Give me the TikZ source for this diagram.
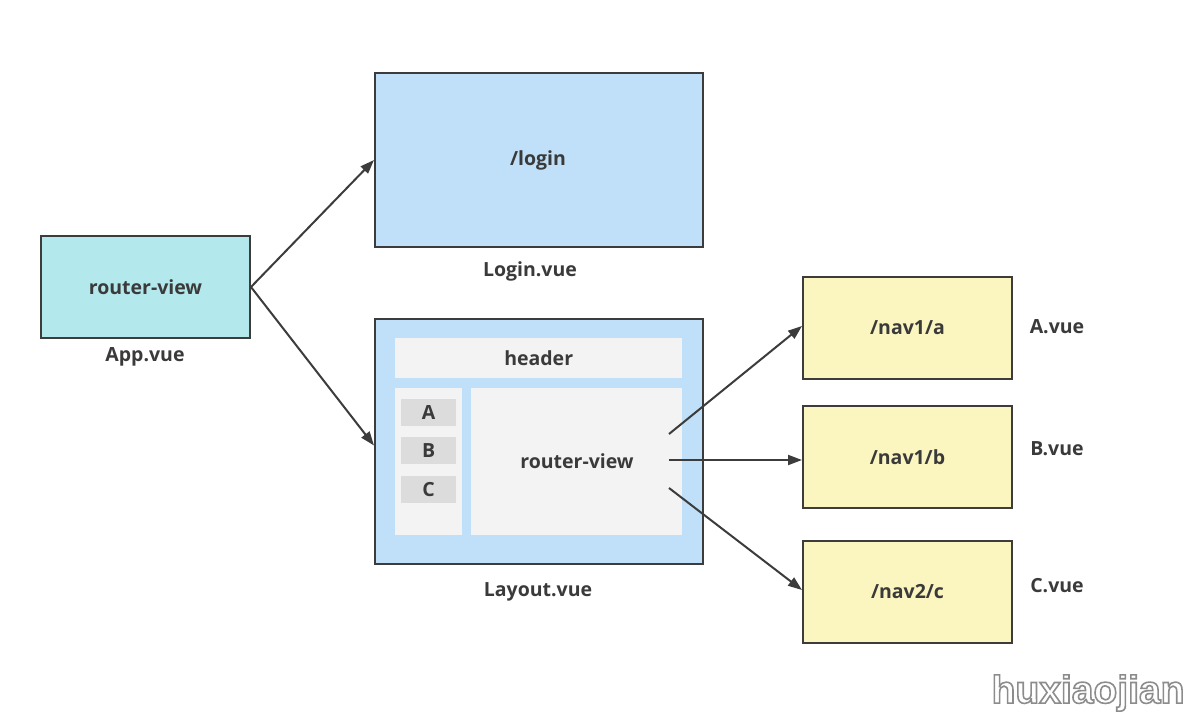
\documentclass[tikz,border=0pt]{standalone}
\usepackage{fontspec}
\setmainfont{Open Sans}
\newfontfamily\wmfont{Liberation Sans}
\usetikzlibrary{arrows.meta}
\definecolor{txt}{HTML}{3A3A3A}
\definecolor{edge}{HTML}{3C3C3C}
\definecolor{appfill}{HTML}{B3E9EC}
\definecolor{bluefill}{HTML}{BFE0F8}
\definecolor{panel}{HTML}{F3F3F3}
\definecolor{tab}{HTML}{DCDCDC}
\definecolor{yelfill}{HTML}{FBF5C0}
\newcommand{\outlinetext}[1]{\special{pdf:literal direct q 1 Tr 1.6 w 0.55 G}#1\special{pdf:literal direct 0 Tr Q}}
\tikzset{
  lbl/.style={text=txt, font=\bfseries\fontsize{19.5}{21}\selectfont},
  arr/.style={draw=edge, line width=2pt, -{Triangle[length=14pt,width=10pt]}},
  wm/.style={font=\wmfont\bfseries\fontsize{39}{40}\selectfont, anchor=east},
}
\begin{document}
\begin{tikzpicture}[x=1pt,y=-1pt]
\useasboundingbox (0,0) rectangle (1197,721);
% App
\node[draw=edge, line width=2pt, fill=appfill, minimum width=209pt, minimum height=102pt, anchor=north west, inner sep=0pt] (app) at (40,235) {};
\node[lbl] (apptxt) at (app.center) {router-view};
\node[lbl] (applbl) at (145,357) {App.vue};
% Login
\node[draw=edge, line width=2pt, fill=bluefill, minimum width=328pt, minimum height=174pt, anchor=north west, inner sep=0pt] (login) at (374,72) {};
\node[lbl] (logintxt) at (538,160) {/login};
\node[lbl] (loginlbl) at (530,271) {Login.vue};
% Layout
\node[draw=edge, line width=2pt, fill=bluefill, minimum width=328pt, minimum height=245pt, anchor=north west, inner sep=0pt] (layout) at (374,318) {};
\node[fill=panel, minimum width=287pt, minimum height=40pt, anchor=north west, inner sep=0pt] (header) at (395,338) {};
\node[lbl] (headertxt) at (header.center) {header};
\node[fill=panel, minimum width=67pt, minimum height=147pt, anchor=north west, inner sep=0pt] (side) at (395,388) {};
\node[fill=panel, minimum width=211pt, minimum height=147pt, anchor=north west, inner sep=0pt] (main) at (471,388) {};
\node[lbl] (maintxt) at (577,461) {router-view};
\node[fill=tab, minimum width=55pt, minimum height=27pt, anchor=north west, inner sep=0pt] (ta) at (401,399) {};
\node[lbl] (tat) at (ta.center) {A};
\node[fill=tab, minimum width=55pt, minimum height=27pt, anchor=north west, inner sep=0pt] (tb) at (401,437) {};
\node[lbl] (tbt) at (tb.center) {B};
\node[fill=tab, minimum width=55pt, minimum height=27pt, anchor=north west, inner sep=0pt] (tc) at (401,476) {};
\node[lbl] (tct) at (tc.center) {C};
\node[lbl] (layoutlbl) at (538,592) {Layout.vue};
% Nav boxes
\node[draw=edge, line width=2pt, fill=yelfill, minimum width=209pt, minimum height=102pt, anchor=north west, inner sep=0pt] (na) at (802,276) {};
\node[lbl] (nat) at (na.center) {/nav1/a};
\node[lbl] (alb) at (1057,327) {A.vue};
\node[draw=edge, line width=2pt, fill=yelfill, minimum width=209pt, minimum height=102pt, anchor=north west, inner sep=0pt] (nb) at (802,405) {};
\node[lbl] (nbt) at (nb.center) {/nav1/b};
\node[lbl] (blb) at (1057,449) {B.vue};
\node[draw=edge, line width=2pt, fill=yelfill, minimum width=209pt, minimum height=102pt, anchor=north west, inner sep=0pt] (nc) at (802,540) {};
\node[lbl] (nct) at (nc.center) {/nav2/c};
\node[lbl] (clb) at (1057,586) {C.vue};
% arrows
\draw[arr] (app.east) -- (login.west);
\draw[arr] (app.east) -- ([yshift=-4pt]layout.west);
\coordinate (s1) at (669,434);
\coordinate (s2) at (669,460);
\coordinate (s3) at (669,488);
\draw[arr] (s1) -- ([yshift=2pt]na.west);
\draw[arr] (s2) -- (s2 -| nb.west);
\draw[arr] (s3) -- ([yshift=2pt]nc.west);
% watermark (outlined text)
\node[wm] (wmk) at (1188,693) {\outlinetext{huxiaojian}};
\end{tikzpicture}
\end{document}
